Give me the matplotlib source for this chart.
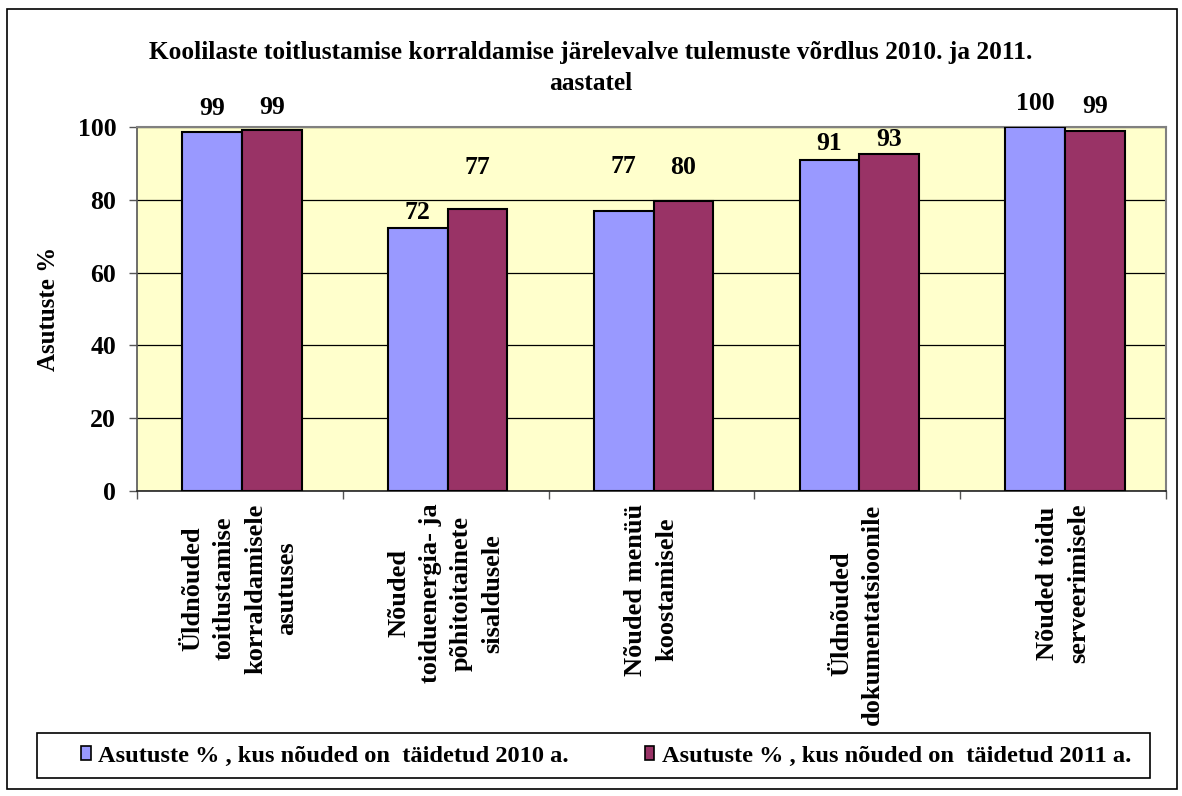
import numpy as np
import matplotlib
matplotlib.use("Agg")
from matplotlib import pyplot as plt
from matplotlib.patches import Rectangle, Patch

# data
categories = [
    "Üldnõuded\ntoitlustamise\nkorraldamisele\nasutuses",
    "Nõuded\ntoiduenergia- ja\npõhitoitainete\nsisaldusele",
    "Nõuded menüü\nkoostamisele",
    "Üldnõuded\ndokumentatsioonile",
    "Nõuded toidu\nserveerimisele",
]
values_2010 = [98.6, 72.3, 76.9, 90.9, 100.0]
values_2011 = [99.2, 77.4, 79.7, 92.6, 98.9]
series_names = [
    "Asutuste % , kus nõuded on  täidetud 2010 a.",
    "Asutuste % , kus nõuded on  täidetud 2011 a.",
]
yticks = [0, 20, 40, 60, 80, 100]

# label gaps above bar tops (pixels), Excel placed them unevenly
gaps_2010 = [24, 15, 45, 17, 24]
gaps_2011 = [22, 42, 33, 14, 25]

W, H = 1182, 796
plt.rcParams['font.family'] = ['Liberation Serif', 'DejaVu Serif']
plt.rcParams['font.weight'] = 'bold'

fig = plt.figure(figsize=(W / 100, H / 100), dpi=100)
ax = fig.add_axes([137 / W, 1 - 491 / H, (1166 - 137) / W, (491 - 127) / H])
ax.set_facecolor('#FFFFCC')

x = np.arange(len(categories))
bw = 0.29
c2010 = '#9999FF'
c2011 = '#993366'

ax.set_axisbelow(True)
ax.yaxis.grid(True, color='black', linewidth=0.9)
b1 = ax.bar(x - bw / 2 + 0.01, values_2010, bw, color=c2010, edgecolor='black', linewidth=1.5, zorder=3)
b2 = ax.bar(x + bw / 2 + 0.01, values_2011, bw, color=c2011, edgecolor='black', linewidth=1.5, zorder=3)

for bars, vals, gaps in [(b1, values_2010, gaps_2010), (b2, values_2011, gaps_2011)]:
    for r, v, g in zip(bars, vals, gaps):
        ax.annotate("%d" % round(v), (r.get_x() + r.get_width() / 2, v),
                    xytext=(0, g), textcoords='offset pixels',
                    ha='center', va='center', fontsize=18.5, fontweight='bold',
                    annotation_clip=False)

ax.set_xlim(-0.5, len(categories) - 0.5)
ax.set_ylim(0, 100)
ax.set_yticks(yticks)
ax.tick_params(axis='y', length=6, width=1, color='#555555', pad=9, labelsize=18.5)

ax.set_xticks(x)
ax.set_xticklabels(categories, rotation=90, fontsize=19, fontweight='bold',
                   multialignment='center', linespacing=1.45)
ax.set_xticks(np.arange(len(categories) + 1) - 0.5, minor=True)
ax.tick_params(axis='x', which='major', length=0, pad=9)
ax.tick_params(axis='x', which='minor', length=6, width=1, color='#555555')

for s in ['top', 'right']:
    ax.spines[s].set_color('#808080')
    ax.spines[s].set_linewidth(1.5)
ax.spines['left'].set_color('#555555')
ax.spines['bottom'].set_color('#222222')
ax.spines['left'].set_linewidth(1.2)
ax.spines['bottom'].set_linewidth(1.2)

ax.set_ylabel("Asutuste %", fontsize=18, fontweight='bold')
ax.yaxis.set_label_coords((60 - 137) / (1166 - 137), 0.5)

fig.text(0.5, 1 - 68 / H,
         "Koolilaste toitlustamise korraldamise järelevalve tulemuste võrdlus 2010. ja 2011.\naastatel",
         ha='center', va='center', multialignment='center', fontsize=18.3,
         fontweight='bold', linespacing=1.5)

# outer chart border and legend box
fig.patches.append(Rectangle((7 / W, 1 - 789 / H), (1177 - 7) / W, (789 - 9) / H,
                             transform=fig.transFigure, fill=False,
                             edgecolor='black', linewidth=1.2))
fig.patches.append(Rectangle((37 / W, 1 - 778 / H), (1150 - 37) / W, (778 - 733) / H,
                             transform=fig.transFigure, fill=False,
                             edgecolor='black', linewidth=1.2))

handles = [Patch(facecolor=c2010, edgecolor='black', linewidth=1.2),
           Patch(facecolor=c2011, edgecolor='black', linewidth=1.2)]
fig.legend(handles, series_names, loc='center', ncol=2,
           bbox_to_anchor=(606 / W, 1 - 756 / H),
           frameon=False, handlelength=0.4, handleheight=0.5,
           handletextpad=0.3, columnspacing=3.1,
           prop={'weight': 'bold', 'size': 17.6})

fig.savefig('out.png', dpi=100)
